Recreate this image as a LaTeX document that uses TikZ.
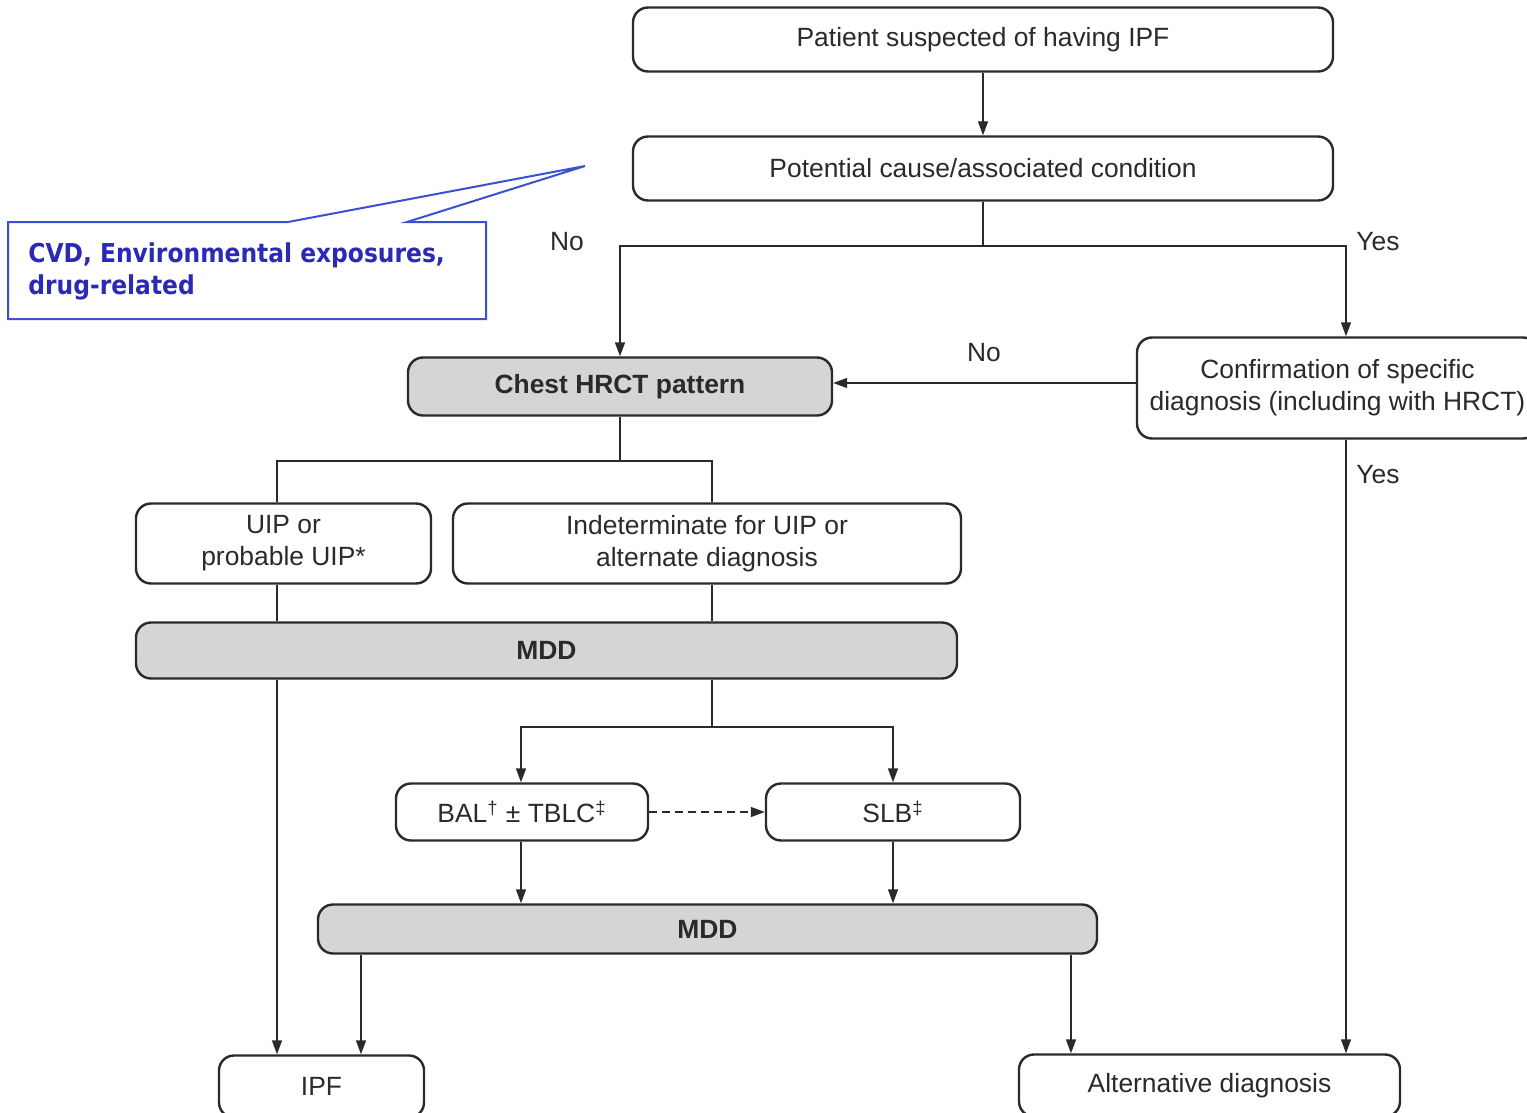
\documentclass[tikz,border=0pt]{standalone}
\usepackage{fontspec}
\setmainfont{Liberation Sans}
\newfontfamily\calloutfont{DejaVu Sans Condensed}
\usetikzlibrary{arrows.meta,calc}
\definecolor{ink}{HTML}{2A2A2A}
\definecolor{boxgray}{HTML}{D4D5D7}
\definecolor{calltext}{HTML}{2A2AB4}
\definecolor{callline}{HTML}{3C50D2}
\tikzset{
  box/.style={draw=ink, line width=1.2pt, rounded corners=7.5pt, fill=white,
    align=center, inner sep=0pt, text=ink},
  graybox/.style={box, fill=boxgray, font=\fontsize{13.2}{16}\selectfont\bfseries},
  link/.style={draw=ink, line width=0.7pt},
  arr/.style={link, -{Triangle[length=7pt,width=5pt]}},
  lbl/.style={text=ink, inner sep=0pt}
}
\begin{document}
\begin{tikzpicture}[x=0.5pt,y=-0.5pt,font=\fontsize{13.2}{16}\selectfont]
\clip (0,0) rectangle (1527,1113);
\fill[white] (0,0) rectangle (1527,1113);

% boxes
\node[box, minimum width=350pt, minimum height=32pt] (start) at (983,39.5) {Patient suspected of having IPF};
\node[box, minimum width=350pt, minimum height=32pt] (cause) at (983,168.5) {Potential cause/associated condition};
\node[graybox, minimum width=212pt, minimum height=29pt] (hrct) at (620,386.5) {Chest HRCT pattern};
\node[box, minimum width=200.5pt, minimum height=50.5pt] (confirm) at (1337.5,388) {Confirmation of specific\\diagnosis (including with HRCT)};
\node[box, minimum width=147.5pt, minimum height=40pt] (uip) at (283.5,543.5) {UIP or\\probable UIP*};
\node[box, minimum width=254pt, minimum height=40pt] (indet) at (707,543.5) {Indeterminate for UIP or\\alternate diagnosis};
\node[graybox, minimum width=410.5pt, minimum height=28pt] (mddA) at (546.5,650.5) {MDD};
\node[box, minimum width=126pt, minimum height=28.5pt] (bal) at (522,812) {BAL\textsuperscript{†} ± TBLC\textsuperscript{‡}};
\node[box, minimum width=127pt, minimum height=28.5pt] (slb) at (893,812) {SLB\textsuperscript{‡}};
\node[graybox, minimum width=389.5pt, minimum height=24.5pt] (mddB) at (707.5,929) {MDD};
\node[box, minimum width=102.5pt, minimum height=31pt] (ipf) at (321.5,1086.5) {IPF};
\node[box, minimum width=190.5pt, minimum height=31pt] (alt) at (1209.5,1085.5) {Alternative diagnosis};

% branch columns and junctions
\coordinate (colA) at (277,0);
\coordinate (colB) at (712,0);
\coordinate (colC) at (521,0);
\coordinate (colD) at (893,0);
\coordinate (colE) at (361,0);
\coordinate (colF) at (1071,0);
\coordinate (colY) at (1346,0);
\coordinate (rowNo) at (0,383);
\coordinate (split1) at (983,246);
\coordinate (split2) at (620,461);
\coordinate (split3) at (712,727);

% connectors
\draw[arr] (start) -- (cause);
\draw[link] (cause.south) -- (split1);
\draw[arr] (split1) -| (hrct.north);
\draw[arr] (split1) -| (colY |- confirm.north);
\draw[arr] (confirm.west |- rowNo) -- (hrct.east |- rowNo);
\draw[arr] (colY |- confirm.south) -- (colY |- alt.north);

\draw[link] (hrct.south) -- (split2);
\draw[link] (split2) -| (colA |- uip.north);
\draw[link] (split2) -| (colB |- indet.north);
\draw[link] (colA |- uip.south) -- (colA |- mddA.north);
\draw[link] (colB |- indet.south) -- (colB |- mddA.north);
\draw[arr] (colA |- mddA.south) -- (colA |- ipf.north);
\draw[link] (colB |- mddA.south) -- (split3);
\draw[arr] (split3) -| (colC |- bal.north);
\draw[arr] (split3) -| (colD |- slb.north);
\draw[arr, dashed, dash pattern=on 4pt off 2.5pt] (bal) -- (slb);
\draw[arr] (colC |- bal.south) -- (colC |- mddB.north);
\draw[arr] (colD |- slb.south) -- (colD |- mddB.north);
\draw[arr] (colE |- mddB.south) -- (colE |- ipf.north);
\draw[arr] (colF |- mddB.south) -- (colF |- alt.north);

% branch labels
\node[lbl] (noA) at (567,242) {No};
\node[lbl] (yesA) at (1378,242) {Yes};
\node[lbl] (noB) at (984,353) {No};
\node[lbl] (yesB) at (1378,475) {Yes};

% callout with its pointer
\filldraw[draw=callline, fill=white, line width=1pt, line join=miter]
  (8,222) -- (288,222) -- (585,166) -- (407,222) -- (486,222) -- (486,319) -- (8,319) -- cycle;
\node[anchor=west, align=left, inner sep=0pt, text=calltext,
  font=\calloutfont\bfseries\fontsize{13}{16}\selectfont] (cvd) at (28,271)
  {CVD, Environmental exposures,\\drug-related};
\end{tikzpicture}
\end{document}
